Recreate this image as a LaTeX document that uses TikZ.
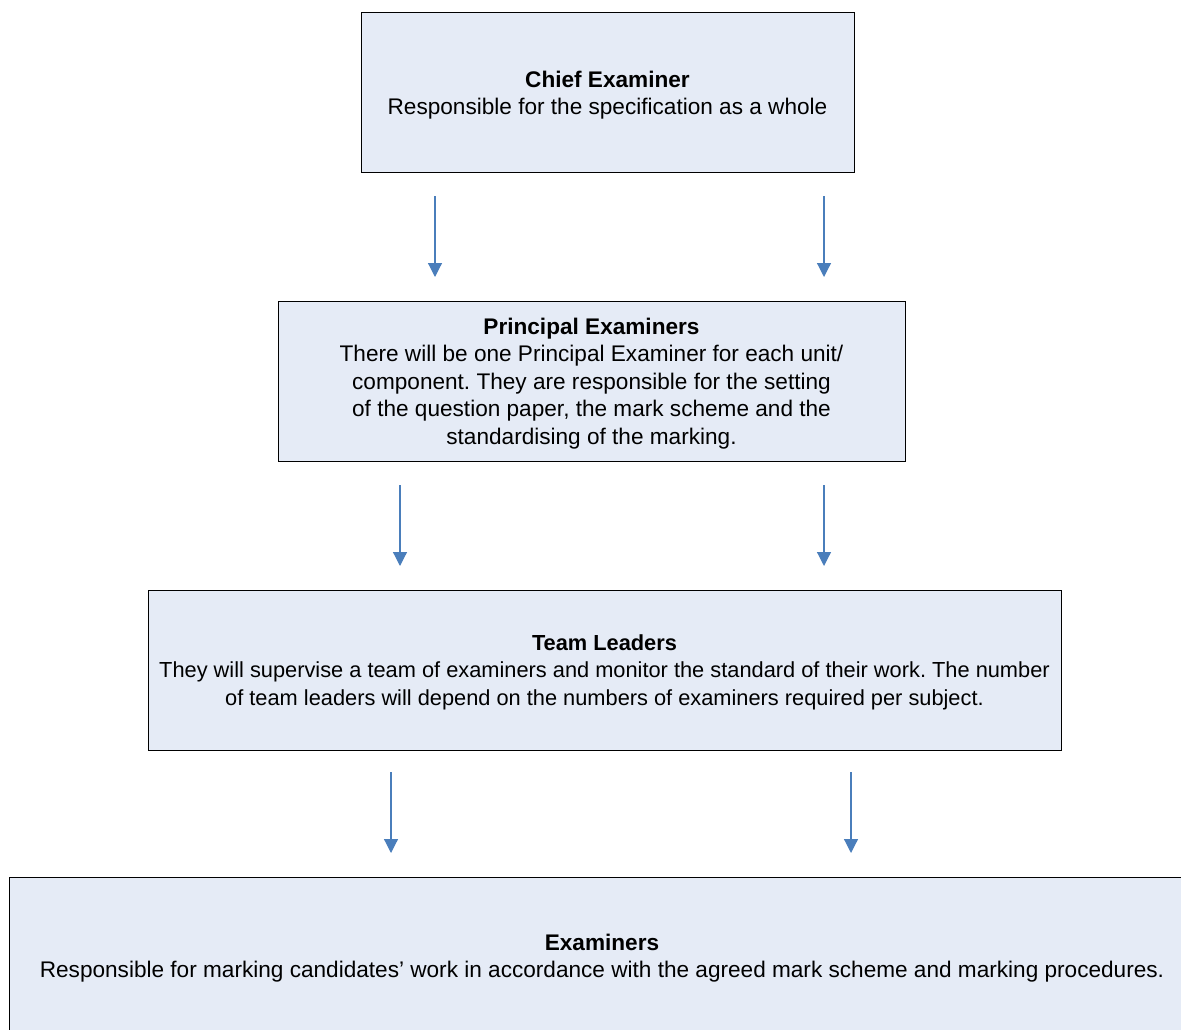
\documentclass[tikz,border=0pt]{standalone}
\usepackage{fontspec}
\setmainfont{Liberation Sans}
\usetikzlibrary{arrows.meta}
\definecolor{boxfill}{HTML}{E5EBF6}
\definecolor{arrowblue}{HTML}{4A7EBB}
\frenchspacing
\begin{document}
\begin{tikzpicture}[x=1pt,y=-1pt,
  box/.style={draw=black, line width=1pt, fill=boxfill, rectangle, inner sep=0pt,
    align=center, font=\fontsize{22.6}{27.5}\selectfont, anchor=center},
  flow/.style={draw=arrowblue, line width=1.2pt, -{Triangle[width=14pt,length=14pt]}}]
\useasboundingbox (0,0) rectangle (1181,1030);
\begin{scope}
\clip (0,0) rectangle (1181,1030);
\node[box, minimum width=493pt, minimum height=160pt, text depth=-4pt] (chief) at (607.5,93)
  {\textbf{Chief Examiner}\\Responsible for the specification as a whole};
\node[box, minimum width=627pt, minimum height=160pt, text depth=-4pt] (principal) at (591.5,381)
  {\textbf{Principal Examiners}\\There will be one Principal Examiner for each unit/\\component. They are responsible for the setting\\of the question paper, the mark scheme and the\\standardising of the marking.};
\node[box, minimum width=913pt, minimum height=160pt, text depth=-4pt, font=\fontsize{21.8}{27.5}\selectfont] (team) at (604.5,670)
  {\textbf{Team Leaders}\\They will supervise a team of examiners and monitor the standard of their work. The number\\of team leaders will depend on the numbers of examiners required per subject.};
\node[box, minimum width=1186pt, minimum height=158pt, text depth=-4pt] (exam) at (602,956)
  {\textbf{Examiners}\\Responsible for marking candidates’ work in accordance with the agreed mark scheme and marking procedures.};
\end{scope}
\coordinate (a1s) at (435,196); \coordinate (a1e) at (435,277);
\coordinate (a2s) at (824,196); \coordinate (a2e) at (824,277);
\coordinate (b1s) at (400,485); \coordinate (b1e) at (400,566);
\coordinate (b2s) at (824,485); \coordinate (b2e) at (824,566);
\coordinate (c1s) at (391,772); \coordinate (c1e) at (391,853);
\coordinate (c2s) at (851,772); \coordinate (c2e) at (851,853);
\draw[flow] (a1s) -- (a1e);
\draw[flow] (a2s) -- (a2e);
\draw[flow] (b1s) -- (b1e);
\draw[flow] (b2s) -- (b2e);
\draw[flow] (c1s) -- (c1e);
\draw[flow] (c2s) -- (c2e);
\end{tikzpicture}
\end{document}
